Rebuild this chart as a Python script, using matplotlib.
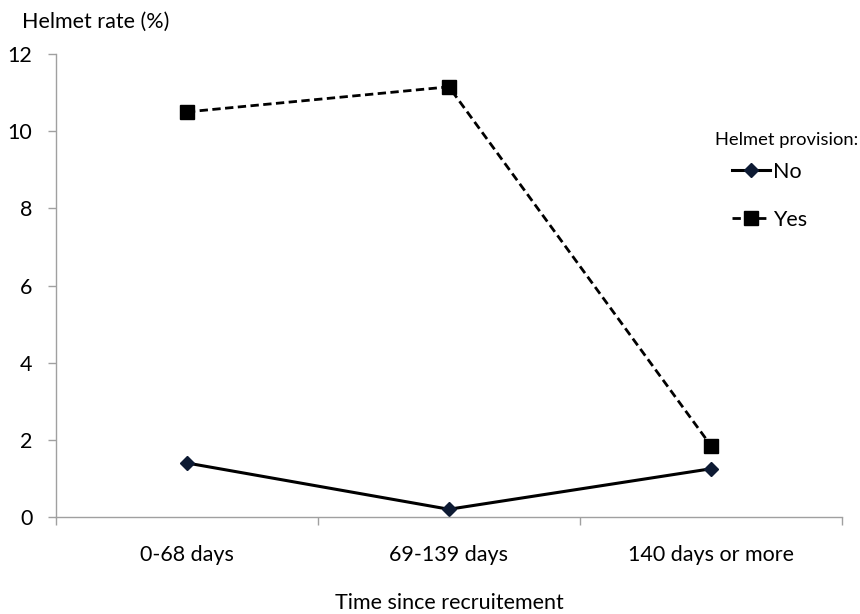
import matplotlib
matplotlib.use("agg")
import matplotlib.pyplot as plt
from matplotlib.ticker import FixedLocator, NullFormatter

#### Data ####
categories = ["0-68 days", "69-139 days", "140 days or more"]
no_rate = [1.4, 0.2, 1.25]
yes_rate = [10.5, 11.15, 1.85]

plt.rcParams["font.family"] = ["Lato", "DejaVu Sans"]
fs = 15.5

fig = plt.figure(figsize=(8.6, 6.14), dpi=100)
ax = fig.add_axes([0.065, 0.158, 0.914, 0.754])

x = list(range(len(categories)))
ax.plot(x, no_rate, color="black", lw=2.2, marker="D", ms=7,
        mfc="#0d1a33", mec="#0d1a33", label="No")
ax.plot(x, yes_rate, color="black", lw=2.0, ls=(0, (3, 1.6)), marker="s", ms=10,
        mfc="black", mec="black", label="Yes")

ax.set_xlim(-0.5, len(categories) - 0.5)
ax.set_ylim(0, 12)
ax.set_yticks(range(0, 13, 2))

# category boundaries as major ticks, labels centred via minor ticks
ax.xaxis.set_major_locator(FixedLocator([i - 0.5 for i in range(len(categories) + 1)]))
ax.xaxis.set_major_formatter(NullFormatter())
ax.xaxis.set_minor_locator(FixedLocator(x))
ax.set_xticks(x, categories, minor=True)
ax.tick_params(axis="x", which="major", length=6, color="#a0a0a0", width=1)
ax.tick_params(axis="x", which="minor", length=0, pad=20, labelsize=fs)
ax.tick_params(axis="y", length=6, color="#a0a0a0", width=1, labelsize=fs, pad=11)

for side in ["top", "right"]:
    ax.spines[side].set_visible(False)
for side in ["left", "bottom"]:
    ax.spines[side].set_color("#a0a0a0")
    ax.spines[side].set_linewidth(1)

ax.set_xlabel("Time since recruitement", fontsize=fs, labelpad=20)
fig.text(0.026, 0.964, "Helmet rate (%)", fontsize=fs, va="center", ha="left")

# legend title drawn separately so its spacing can match
fig.text(0.998, 1 - 140 / 614, "Helmet provision:", fontsize=13.2,
         va="center", ha="right")
leg = ax.legend(loc="upper left", bbox_to_anchor=(0.851, 1 - 162 / 614),
                bbox_transform=fig.transFigure, frameon=False, fontsize=fs,
                handlelength=1.75, handletextpad=0.15, labelspacing=1.3,
                borderpad=0, borderaxespad=0)

fig.savefig("out.png", dpi=100)
